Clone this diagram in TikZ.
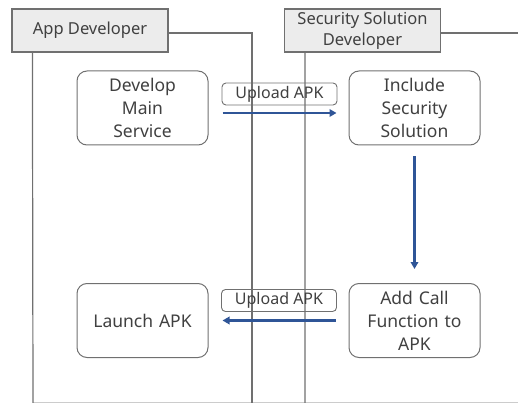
\documentclass[tikz,border=0pt]{standalone}
\usepackage{fontspec}
\setmainfont{Noto Sans}
\usetikzlibrary{positioning,arrows.meta}
\definecolor{linecolor}{RGB}{112,112,112}
\definecolor{headcolor}{RGB}{236,236,236}
\definecolor{textcolor}{RGB}{64,64,64}
\definecolor{flowcolor}{RGB}{47,85,151}

\begin{document}
\begin{tikzpicture}[%
    x=1pt, y=-1pt,                  % pixel-like grid, top-down
    node distance=212.5pt and 272pt, % box spacing
    font=\fontsize{17.5}{23}\selectfont,
    ]
\tikzset{
  base/.style={draw=linecolor, text=textcolor, align=center, inner sep=0pt},
  head/.style={base, rectangle, fill=headcolor, line width=1.2pt, minimum width=156pt, minimum height=43pt, font=\fontsize{16.5}{21}\selectfont},
  proc/.style={base, rectangle, rounded corners=10pt, line width=1pt, text width=128pt, minimum width=131pt, minimum height=74pt, on grid},
  tag/.style={base, rectangle, rounded corners=4pt, line width=0.9pt, minimum width=115pt, minimum height=22pt, font=\fontsize{16}{18}\selectfont},
  life/.style={draw=linecolor, line width=1.2pt},
  flow/.style={draw=flowcolor, line width=2.2pt, -{Triangle[length=7pt,width=7.5pt]}},
}
\useasboundingbox (0,0) rectangle (518,403);

% lifelines
\draw [draw=black!20, line width=0.8pt] (33,402) -- (518,402);
\node [head] (app) at (90,30.5) {App Developer};
\node [head] (sec) at (362.5,30.5) {Security Solution\\Developer};
\draw [life] (app.east |- 0,33) -- (252,33) -- (252,403);
\draw [life] (app.south west) ++(21,0) -- (33,403);
\draw [life] (sec.east |- 0,33) -- (518,33);
\draw [life] (sec.south west) ++(21,0) -- (305,403);

% steps
\node [proc] (dev) at (142.5,108) {Develop\\Main\\Service};
\node [proc,right=of dev] (inc) {Include\\Security\\Solution};
\node [proc,below=of inc] (add) {Add Call\\Function to\\APK};
\node [proc,left=of add] (run) {Launch APK};

\node [tag] (up1) at (279.5,94) {Upload APK};
\node [tag] (up2) at (279,300.5) {Upload APK};

%connect
\draw [flow, shorten <=14pt, shorten >=12pt] ([yshift=-5pt]dev.east) -- ([yshift=-5pt]inc.west);
\draw [flow, shorten <=11pt, shorten >=14pt] (inc.south) -- (add.north);
\draw [flow, shorten <=13pt, shorten >=14pt] (add.west) -- (run.east);

\end{tikzpicture}
\end{document}
